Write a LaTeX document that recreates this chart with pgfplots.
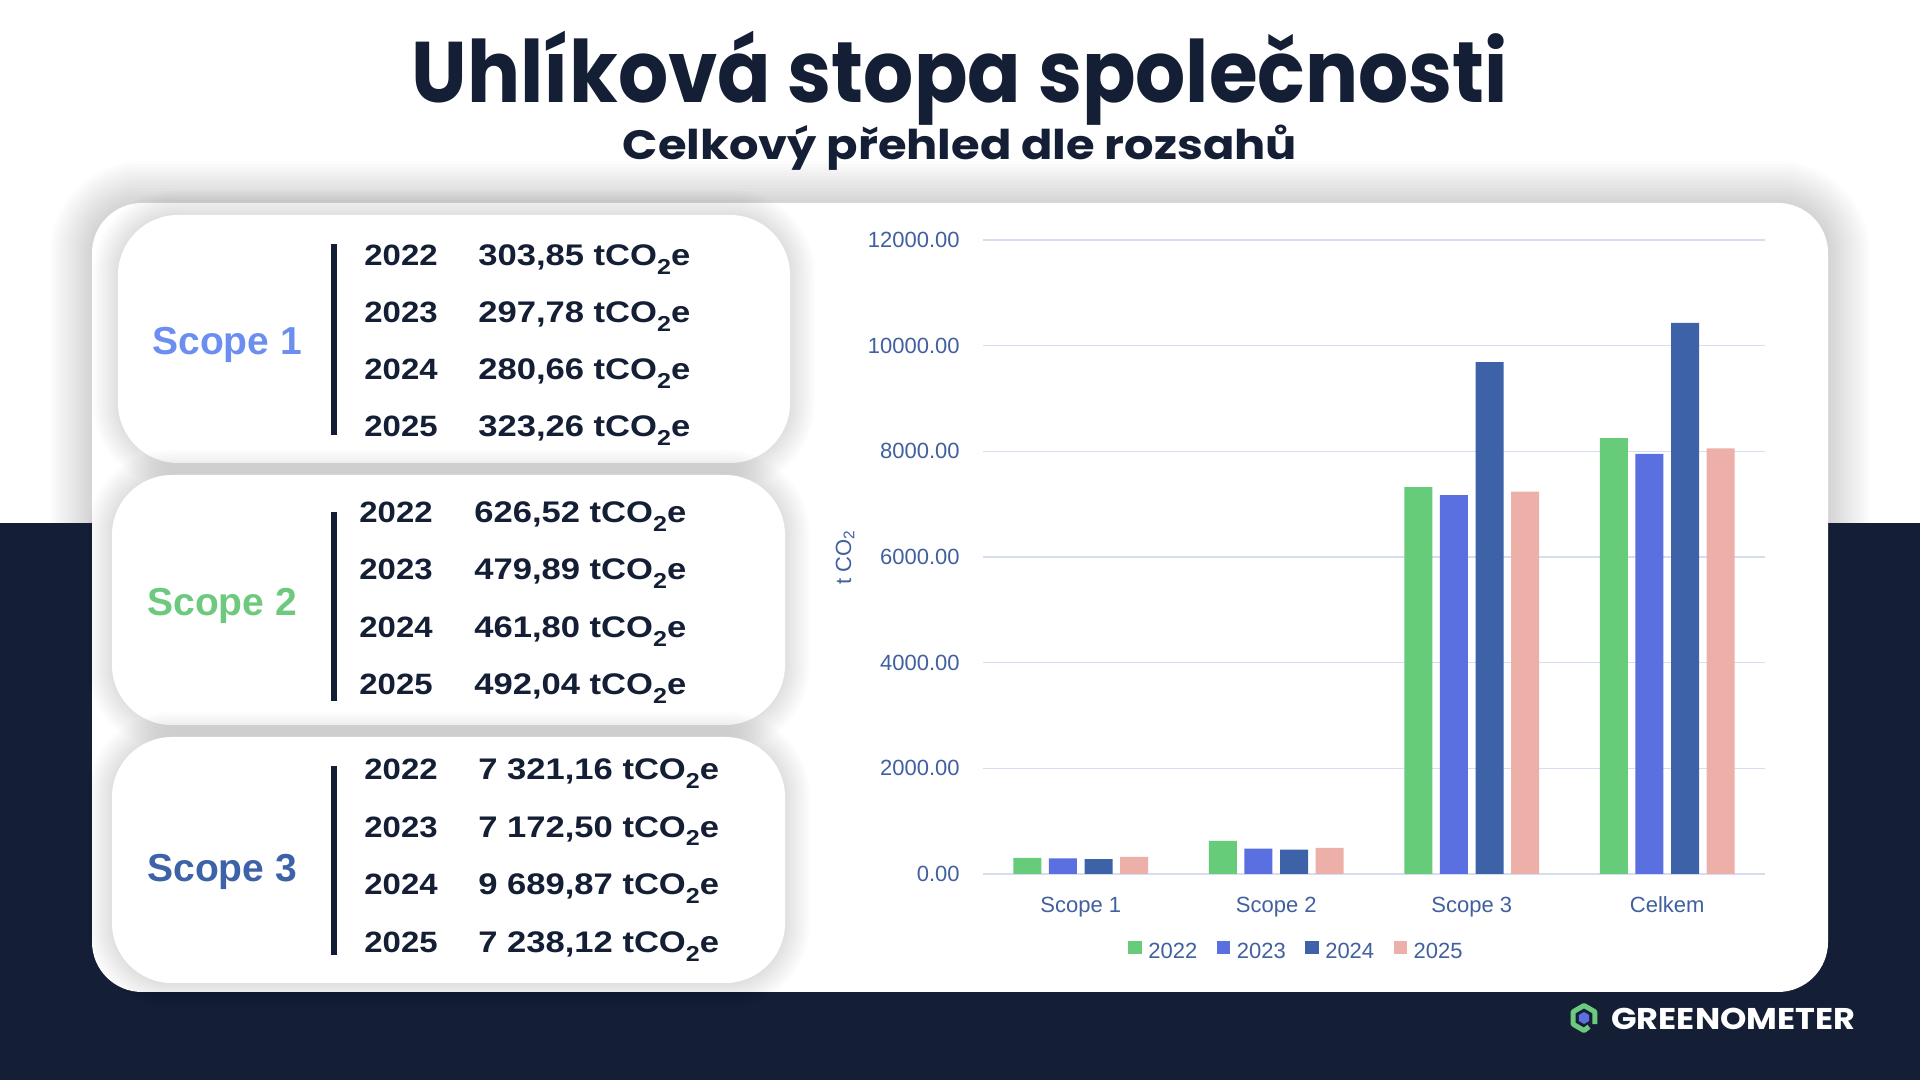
\documentclass[border=0pt]{standalone}
\usepackage{fontspec}
\usepackage{graphicx}
\usepackage{pgfplots}
\usepackage{pgfplotstable}
\pgfplotsset{compat=1.18}
\setmainfont{Liberation Sans}
\newfontfamily\titlefont{Poppins}
\newfontfamily\tabfont[FakeStretch=1.12]{Liberation Sans}
\newfontfamily\valfont[FakeStretch=1.16]{Liberation Sans}

\definecolor{navy}{HTML}{141F36}
\definecolor{scopeA}{HTML}{6B8EF0}
\definecolor{scopeB}{HTML}{6CC97E}
\definecolor{scopeC}{HTML}{3D62A8}
\definecolor{c22}{HTML}{66CC7A}
\definecolor{c23}{HTML}{5A70E0}
\definecolor{c24}{HTML}{3D62A8}
\definecolor{c25}{HTML}{EDB0A8}
\definecolor{tickcol}{HTML}{41609F}
\definecolor{gridcol}{HTML}{D5DDEE}

% emissions per scope (t CO2e); the last row is the yearly total
\pgfplotstableread{
x y2022 y2023 y2024 y2025
0 303.85 297.78 280.66 323.26
1 626.52 479.89 461.80 492.04
2 7321.16 7172.50 9689.87 7238.12
3 8251.53 7950.17 10432.33 8053.42
}\emis

% subscript two, set low as in the unit tCO2e
\newcommand{\subtwo}{\raisebox{-0.28em}{\fontsize{10.8}{12}\selectfont 2}}

% white card with a soft shadow: x1 y1 x2 y2
\newcommand{\card}[4]{%
  \foreach \i in {1,...,10}{%
    \pgfmathsetmacro{\e}{\i*2.5}%
    \pgfmathsetmacro{\rr}{(60+\e)*0.5}%
    \fill[black,opacity=0.013,rounded corners=\rr pt] ({#1-\e},{#2-\e}) rectangle ({#3+\e},{#4+\e});
  }%
  \fill[white,rounded corners=30pt] (#1,#2) rectangle (#3,#4);
}
% one table row: x of year, x of value, baseline, year, value
\newcommand{\trow}[5]{%
  \node[anchor=base west,inner sep=0pt,text=navy,font=\tabfont\bfseries\fontsize{14.7}{17}\selectfont] at (#1,#3) {#4};
  \node[anchor=base west,inner sep=0pt,text=navy,font=\valfont\bfseries\fontsize{14.9}{17}\selectfont] at (#2,#3) {#5 tCO\subtwo e};
}

\begin{document}
\begin{tikzpicture}[x=0.5pt,y=0.5pt]
\useasboundingbox (0,0) rectangle (1920,1080);
\fill[white] (0,0) rectangle (1920,1080);
\fill[navy] (0,0) rectangle (1920,557);

% main panel and its shadow
\begin{scope}
  \clip (0,557) rectangle (1920,1080);
  \foreach \i in {1,...,14}{%
    \pgfmathsetmacro{\e}{\i*3}%
    \pgfmathsetmacro{\rr}{(50+\e)*0.5}%
    \fill[black,opacity=0.010,rounded corners=\rr pt] ({92-\e},{88-\e}) rectangle ({1828+\e},{877+\e});
  }
\end{scope}
\fill[white,rounded corners=25pt] (92,88) rectangle (1828,877);

% title block
\node[anchor=base,inner sep=0pt,text=navy] at (960,977)
  {\resizebox{548pt}{\height}{\titlefont\bfseries\fontsize{43}{50}\selectfont Uhlíková stopa společnosti}};
\node[anchor=base,inner sep=0pt,text=navy] at (960,920)
  {\resizebox{337pt}{\height}{\titlefont\bfseries\fontsize{20.5}{24}\selectfont Celkový přehled dle rozsahů}};

% scope cards
\card{118}{617}{790}{865}
\card{112}{355}{785}{605}
\card{112}{97}{785}{343}

\node[anchor=base west,inner sep=0pt,text=scopeA,font=\bfseries\fontsize{19.5}{22}\selectfont] at (152,725) {Scope 1};
\node[anchor=base west,inner sep=0pt,text=scopeB,font=\bfseries\fontsize{19.5}{22}\selectfont] at (147,464) {Scope 2};
\node[anchor=base west,inner sep=0pt,text=scopeC,font=\bfseries\fontsize{19.5}{22}\selectfont] at (147,198) {Scope 3};

\draw[navy,line width=3pt] (334,836) -- (334,645);
\draw[navy,line width=3pt] (334,568) -- (334,379);
\draw[navy,line width=3pt] (334,314) -- (334,125);

\trow{364}{478}{814}{2022}{303,85}
\trow{364}{478}{757}{2023}{297,78}
\trow{364}{478}{700}{2024}{280,66}
\trow{364}{478}{643}{2025}{323,26}

\trow{359}{474}{557}{2022}{626,52}
\trow{359}{474}{500}{2023}{479,89}
\trow{359}{474}{442}{2024}{461,80}
\trow{359}{474}{385}{2025}{492,04}

\trow{364}{478}{300}{2022}{7~321,16}
\trow{364}{478}{242.5}{2023}{7~172,50}
\trow{364}{478}{185}{2024}{9~689,87}
\trow{364}{478}{127}{2025}{7~238,12}

% bar chart
\begin{axis}[
  at={(491.5pt,103pt)}, anchor=south west,
  scale only axis, width=391pt, height=317pt,
  ybar=3.8pt, bar width=14pt,
  xmin=-0.5, xmax=3.5, ymin=0, ymax=12000,
  xtick={0,1,2,3}, xticklabels={Scope 1,Scope 2,Scope 3,Celkem},
  ytick={0,2000,...,12000},
  scaled y ticks=false,
  axis line style={draw=none},
  major tick length=0pt,
  ymajorgrids, grid style={draw=gridcol, line width=0.75pt},
  tick label style={font=\fontsize{11}{13}\selectfont, text=tickcol},
  /pgf/number format/fixed, /pgf/number format/fixed zerofill,
  /pgf/number format/precision=2, /pgf/number format/1000 sep={},
  /pgf/number format/assume math mode=true,
  yticklabel style={inner sep=0pt, xshift=-11.5pt},
  xticklabel style={inner sep=0pt, anchor=base, yshift=-19.5pt},
  ylabel={t CO\textsubscript{2}},
  ylabel style={at={(axis description cs:-0.1765,0.5)}, anchor=center, font=\fontsize{11}{13}\selectfont, text=tickcol},
  legend columns=4,
  legend style={at={(axis description cs:0.1854,-0.120)}, anchor=west, draw=none, fill=none,
    inner sep=0pt, font=\fontsize{11}{13}\selectfont, text=tickcol,
    nodes={inner sep=0pt, text depth=0pt},
    /tikz/every even column/.append style={column sep=9.75pt},
    /tikz/every odd column/.append style={column sep=3.25pt}},
  legend image code/.code={\fill[#1] (0pt,-1.6pt) rectangle (6.75pt,4.9pt);},
]
\addplot[fill=c22, draw=none] table[x=x,y=y2022]{\emis};
\addplot[fill=c23, draw=none] table[x=x,y=y2023]{\emis};
\addplot[fill=c24, draw=none] table[x=x,y=y2024]{\emis};
\addplot[fill=c25, draw=none] table[x=x,y=y2025]{\emis};
\legend{2022,2023,2024,2025}
\end{axis}

% brand mark
\begin{scope}[shift={(1584,62)}]
  \draw[scopeB, line width=2.5pt, line join=round] (330:12.5) -- (30:12.5) -- (90:12.5) -- (150:12.5) -- (210:12.5) -- (270:12.5) -- (300:10);
  \fill[c23] (90:6) -- (150:6) -- (210:6) -- (270:6) -- (330:6) -- (30:6) -- cycle;
\end{scope}
\node[anchor=base west,inner sep=0pt,text=white] at (1611,50.5)
  {\resizebox{122pt}{\height}{\titlefont\bfseries\fontsize{15}{18}\selectfont GREENOMETER}};
\end{tikzpicture}
\end{document}
